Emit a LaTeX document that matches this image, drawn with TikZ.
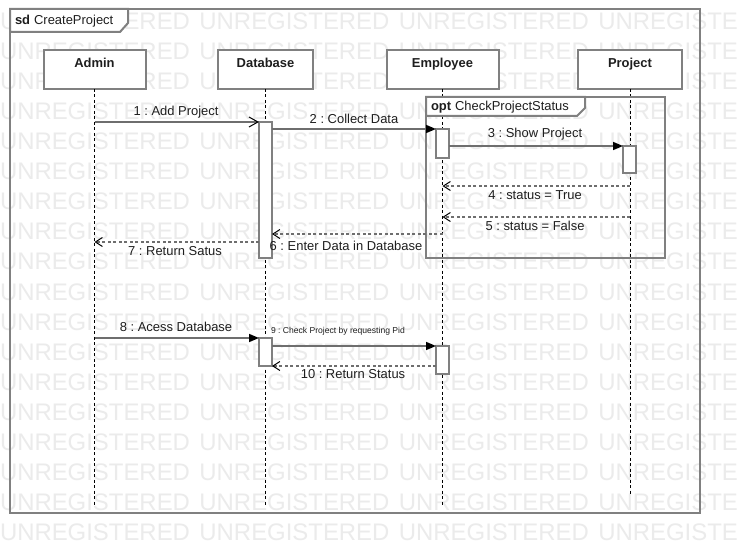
\documentclass[tikz,border=0pt]{standalone}
\usepackage{fontspec}
\setmainfont{Liberation Sans}
\usetikzlibrary{arrows.meta,calc}
\frenchspacing
\definecolor{wmgray}{HTML}{EBEBEB}
\definecolor{framegray}{HTML}{808080}
\definecolor{msggray}{HTML}{6E6E6E}
\definecolor{txt}{HTML}{1E1E1E}
\tikzset{
  every node/.style={inner sep=0pt, outer sep=0pt, text=txt},
  wmk/.style={text=wmgray, font=\fontsize{24}{28}\selectfont, anchor=base west},
  lbl/.style={font=\fontsize{13}{15}\selectfont, text height=9.5bp, text depth=2.5bp},
  smalllbl/.style={font=\fontsize{8.6}{10}\selectfont, text height=6.3bp, text depth=1.7bp},
  framebox/.style={draw=framegray, line width=2bp, anchor=north west},
  tabshape/.style={draw=framegray, line width=2bp, fill=white},
  headbox/.style={draw=framegray, line width=2bp, fill=white, minimum height=39bp,
     font=\bfseries\fontsize{13}{15}\selectfont, text height=9.5bp, text depth=13.3bp},
  actbox/.style={draw=framegray, line width=2bp, fill=white, minimum width=13bp, anchor=north},
  lifeline/.style={draw=black, line width=1bp, dash pattern=on 3bp off 2.5bp},
  msgline/.style={draw=msggray, line width=1.6bp},
  syncmsg/.style={msgline, -{Triangle[length=10bp,width=8bp,color=black,fill=black]}},
  asyncmsg/.style={msgline, -{Straight Barb[length=9bp,width=10bp,color=black,line width=1bp]}},
  retmsg/.style={draw=msggray, line width=1.5bp, dash pattern=on 3bp off 2.5bp,
     -{Straight Barb[length=7bp,width=9bp,color=black,line width=1bp]}},
}
\begin{document}
\begin{tikzpicture}[x=1bp,y=-1bp]
\useasboundingbox (0,0) rectangle (741,554);
\fill[white] (0,0) rectangle (741,554);
% watermark
\begin{scope}
\clip (0,0) rectangle (741,554);
\foreach \k in {0,...,17}{
  \node[wmk] (wm\k) at (0,30+30*\k) {UNREGISTERED\hspace{9.5bp}UNREGISTERED\hspace{9.5bp}UNREGISTERED\hspace{9.5bp}UNREGISTE};
}
\end{scope}
% sd frame
\node[framebox, minimum width=690bp, minimum height=504bp] (sd) at (10,9) {};
\draw[tabshape] (sd.north west) -- ++(118,0) -- ++(0,14) -- ++(-8,9) -- ++(-110,0) -- cycle;
\node[lbl, anchor=west] (sdlabel) at (15,21) {\textbf{sd}\hspace{4bp}CreateProject};
% heads
\node[headbox, minimum width=102bp] (admin) at (94.5,69.5) {Admin};
\node[headbox, minimum width=95bp] (database) at (265.5,69.5) {Database};
\node[headbox, minimum width=112bp] (employee) at (442.5,69.5) {Employee};
\node[headbox, minimum width=104bp] (project) at (630,69.5) {Project};
% lifeline ends
\coordinate (adminEnd) at (94.5,506);
\coordinate (databaseEnd) at (265.5,506);
\coordinate (employeeEnd) at (442.5,506);
\coordinate (projectEnd) at (630,495);
\draw[lifeline] (admin.south) -- (adminEnd);
\draw[lifeline] (database.south) -- (databaseEnd);
\draw[lifeline] (employee.south) -- (employeeEnd);
\draw[lifeline] (project.south) -- (projectEnd);
% opt fragment
\node[framebox, minimum width=239bp, minimum height=161bp] (opt) at (426,97) {};
\draw[tabshape] (opt.north west) -- ++(159,0) -- ++(0,11) -- ++(-8,8) -- ++(-151,0) -- cycle;
\node[lbl, anchor=west] (optlabel) at (431,107.5) {\textbf{opt}\hspace{4bp}CheckProjectStatus};
% activations
\node[actbox, minimum height=136bp] (dbA) at (265.5,122) {};
\node[actbox, minimum height=29bp] (empA) at (442.5,129) {};
\node[actbox, minimum height=27bp] (prA) at (629.5,146) {};
\node[actbox, minimum height=28bp] (dbB) at (265.5,338) {};
\node[actbox, minimum height=28bp] (empB) at (442.5,346) {};
% message rows
\coordinate (r4) at (0,186);
\coordinate (r5) at (0,217);
\coordinate (r6) at (0,234);
\coordinate (r7) at (0,242);
% messages
\draw[asyncmsg] (admin.south |- dbA.north) -- (dbA.north west);
\draw[syncmsg] (dbA.east |- empA.north) -- (empA.north west);
\draw[syncmsg] (empA.east |- prA.north) -- (prA.north west);
\draw[retmsg] (project.south |- r4) -- (employee.south |- r4);
\draw[retmsg] (project.south |- r5) -- (employee.south |- r5);
\draw[retmsg] (employee.south |- r6) -- (dbA.east |- r6);
\draw[retmsg] (dbA.west |- r7) -- (admin.south |- r7);
\draw[syncmsg] (admin.south |- dbB.north) -- (dbB.north west);
\draw[syncmsg] (dbB.east |- empB.north) -- (empB.north west);
\draw[retmsg] (empB.west |- dbB.south) -- (dbB.south east);
% labels
\node[lbl] (l1) at (176,112) {1 : Add Project};
\node[lbl] (l2) at (354,120) {2 : Collect Data};
\node[lbl] (l3) at (535,134) {3 : Show Project};
\node[lbl] (l4) at (535,196) {4 : status = True};
\node[lbl] (l5) at (535,227) {5 : status = False};
\node[lbl] (l6) at (346,247) {6 : Enter Data in Database};
\node[lbl] (l7) at (175,252) {7 : Return Satus};
\node[lbl] (l8) at (176,328) {8 : Acess Database};
\node[smalllbl, anchor=west] (l9) at (271,331) {9 : Check Project by requesting Pid};
\node[lbl] (l10) at (353,375) {10 : Return Status};
\end{tikzpicture}
\end{document}
